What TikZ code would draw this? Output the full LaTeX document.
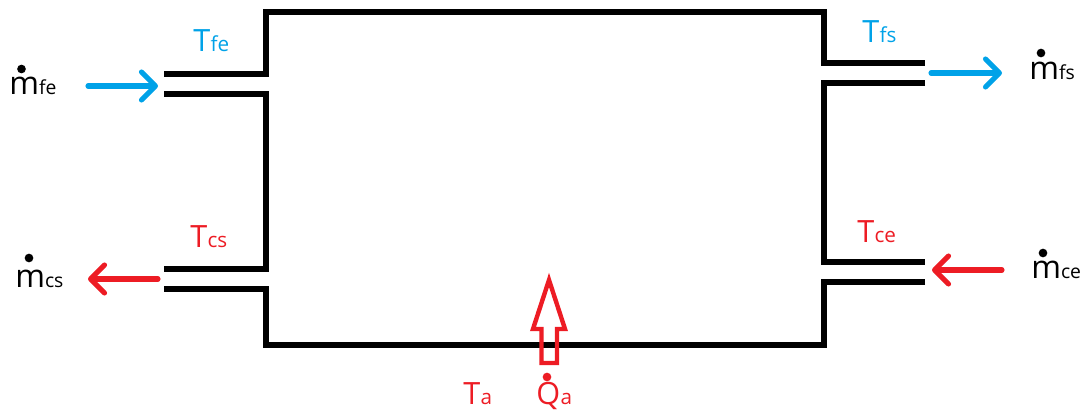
\documentclass[tikz,border=0pt]{standalone}
\usepackage{fontspec}
\usetikzlibrary{arrows.meta}
\setmainfont{Open Sans}
\definecolor{pblue}{HTML}{00A2E8}
\definecolor{pred}{HTML}{ED1C24}
\newcommand{\labT}[2]{{\fontsize{23}{23}\selectfont #1}\kern0.3pt{\fontsize{15.5}{15.5}\selectfont #2}}
\newcommand{\labM}[2]{{\fontsize{24}{24}\selectfont #1}{\fontsize{14.5}{14.5}\selectfont #2}}
\tikzset{
  x=0.75pt,y=-0.75pt,
  wall/.style={draw=black,line width=3.9pt,line cap=butt,miter limit=10},
  flow/.style={line width=3.8pt,line cap=round,-{Straight Barb[length=10.5pt,width=21pt,line cap=round,line join=round]}},
  bluelab/.style={anchor=base west,inner sep=0pt,text=pblue},
  redlab/.style={anchor=base west,inner sep=0pt,text=pred},
  blacklab/.style={anchor=base west,inner sep=0pt,text=black},
  blackdot/.style={circle,fill=black,inner sep=0pt,minimum size=6.5pt},
  reddot/.style={circle,fill=pred,inner sep=0pt,minimum size=6.5pt},
  blockarrow/.style={draw=pred,line width=3.3pt,miter limit=10,fill=none,line join=miter}
}
\begin{document}
\begin{tikzpicture}
\useasboundingbox (0,0) rectangle (1083,410);
% vessel outline
\draw[wall] (164,74) -- (266,74) -- (266,12) -- (824,12) -- (824,63) -- (925,63);
\draw[wall] (925,83) -- (824,83) -- (824,262) -- (925,262);
\draw[wall] (925,282) -- (824,282) -- (824,345) -- (266,345) -- (266,289) -- (164,289);
\draw[wall] (164,269) -- (266,269) -- (266,94) -- (164,94);
% flow arrows
\coordinate (afeS) at (88,86);   \coordinate (afeE) at (158,86);
\coordinate (afsS) at (931,73);  \coordinate (afsE) at (1002,73);
\coordinate (acsS) at (158,279); \coordinate (acsE) at (88,279);
\coordinate (aceS) at (1002,270);\coordinate (aceE) at (932,270);
\draw[flow,pblue] (afeS) -- (afeE);
\draw[flow,pblue] (afsS) -- (afsE);
\draw[flow,pred] (acsS) -- (acsE);
\draw[flow,pred] (aceS) -- (aceE);
% heat arrow
\draw[blockarrow] (549,280) -- (565,329) -- (557,329) -- (557,363) -- (541.5,363) -- (541.5,329) -- (533,329) -- cycle;
% temperatures
\node[bluelab] (tfe) at (193,52) {\labT{T}{fe}};
\node[bluelab] (tfs) at (862,43) {\labT{T}{fs}};
\node[redlab] (tcs) at (190,247) {\labT{T}{cs}};
\node[redlab] (tce) at (857,243) {\labT{T}{ce}};
\node[redlab] (ta) at (463,404) {\labT{T}{a}};
\node[redlab] (qa) at (536,404) {\labT{Q}{a}};
\node[reddot] (qdot) at (547,377) {};
% mass flows
\node[blacklab] (mfe) at (9,95) {\labM{m}{fe}};
\node[blackdot] (dfe) at (21.5,69) {};
\node[blacklab] (mfs) at (1029,80) {\labM{m}{fs}};
\node[blackdot] (dfs) at (1041,53) {};
\node[blacklab] (mcs) at (15,287) {\labM{m}{cs}};
\node[blackdot] (dcs) at (29,258) {};
\node[blacklab] (mce) at (1031,278) {\labM{m}{ce}};
\node[blackdot] (dce) at (1043,253) {};
\end{tikzpicture}
\end{document}
